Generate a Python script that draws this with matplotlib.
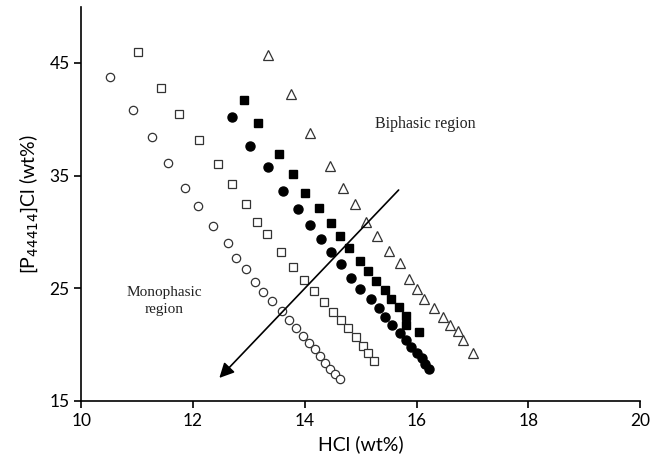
import matplotlib.pyplot as plt

# open circles
x_oc = [10.52, 10.93, 11.26, 11.55, 11.85, 12.08, 12.35, 12.62, 12.76, 12.94, 13.11, 13.26,
        13.42, 13.59, 13.72, 13.84, 13.97, 14.07, 14.18, 14.27, 14.36, 14.45, 14.54, 14.63]
y_oc = [43.75, 40.82, 38.43, 36.12, 33.90, 32.30, 30.53, 29.02, 27.69, 26.71, 25.56, 24.67,
        23.87, 22.99, 22.19, 21.48, 20.77, 20.15, 19.61, 18.99, 18.37, 17.84, 17.40, 16.95]

# open squares
x_os = [11.01, 11.42, 11.74, 12.10, 12.44, 12.69, 12.95, 13.15, 13.33, 13.58, 13.79,
        13.99, 14.16, 14.34, 14.50, 14.64, 14.77, 14.91, 15.04, 15.14, 15.23]
y_os = [45.97, 42.77, 40.47, 38.16, 36.03, 34.25, 32.48, 30.88, 29.82, 28.22, 26.89,
        25.74, 24.76, 23.78, 22.90, 22.19, 21.48, 20.68, 19.88, 19.26, 18.55]

# filled circles
x_fc = [12.70, 13.02, 13.35, 13.61, 13.88, 14.09, 14.29, 14.47, 14.64, 14.82, 14.98,
        15.18, 15.32, 15.43, 15.57, 15.71, 15.82, 15.91, 16.00, 16.09, 16.16, 16.23]
y_fc = [40.20, 37.63, 35.76, 33.63, 32.04, 30.62, 29.37, 28.22, 27.16, 25.91, 24.94,
        24.05, 23.25, 22.45, 21.74, 21.03, 20.41, 19.79, 19.26, 18.82, 18.28, 17.84]

# filled squares
x_fs = [12.92, 13.17, 13.54, 13.79, 14.00, 14.25, 14.47, 14.63, 14.80, 14.98, 15.14,
        15.28, 15.43, 15.55, 15.69, 15.82, 15.82, 16.05]
y_fs = [41.71, 39.67, 36.92, 35.14, 33.46, 32.13, 30.79, 29.64, 28.58, 27.42, 26.54,
        25.65, 24.85, 24.05, 23.34, 22.54, 21.74, 21.12]

# open triangles
x_ot = [13.35, 13.75, 14.09, 14.45, 14.68, 14.89, 15.09, 15.30, 15.50, 15.71, 15.87,
        16.00, 16.14, 16.32, 16.48, 16.60, 16.74, 16.83, 17.01]
y_ot = [45.70, 42.24, 38.78, 35.85, 33.90, 32.48, 30.88, 29.64, 28.31, 27.24, 25.83,
        24.94, 24.05, 23.25, 22.45, 21.74, 21.21, 20.41, 19.26]

fig = plt.figure(figsize=(6.51, 4.70), dpi=100)
ax = fig.add_axes([0.125, 0.147, 0.858, 0.839])

edge = '#333333'
ms = 6
ax.plot(x_oc, y_oc, 'o', ms=ms, mfc='white', mec=edge, mew=0.9, ls='none')
ax.plot(x_os, y_os, 's', ms=ms, mfc='white', mec=edge, mew=0.9, ls='none')
ax.plot(x_fc, y_fc, 'o', ms=ms + 0.5, mfc='black', mec='black', ls='none')
ax.plot(x_fs, y_fs, 's', ms=ms, mfc='black', mec='black', ls='none')
ax.plot(x_ot, y_ot, '^', ms=ms + 0.5, mfc='white', mec=edge, mew=0.9, ls='none')

# arrow from biphasic to monophasic region
ax.annotate('', xy=(12.47, 17.04), xytext=(15.68, 33.72),
            arrowprops=dict(arrowstyle='-|>', color='black', lw=1.2,
                            mutation_scale=22, shrinkA=0, shrinkB=0))

ax.text(16.16, 39.58, 'Biphasic region', ha='center', va='center',
        fontsize=11.5, family='Liberation Serif', color='#222222')
ax.text(11.49, 23.87, 'Monophasic\nregion', ha='center', va='center',
        fontsize=11, family='Liberation Serif', color='#222222', linespacing=1.4)

ax.set_xlim(10, 20)
ax.set_ylim(15, 50)
ax.set_xticks([10, 12, 14, 16, 18, 20])
ax.set_yticks([15, 25, 35, 45])
ax.spines['top'].set_visible(False)
ax.spines['right'].set_visible(False)
ax.spines['left'].set_linewidth(1.2)
ax.spines['bottom'].set_linewidth(1.2)
ax.tick_params(direction='out', length=5, width=1.2, labelsize=12.5)
for lab in ax.get_xticklabels() + ax.get_yticklabels():
    lab.set_family('Lato')
ax.set_xlabel('HCl (wt%)', fontsize=14, family='Lato', labelpad=5)
ax.set_ylabel('[P$_{44414}$]Cl (wt%)', fontsize=14, family='Lato', labelpad=7)

fig.savefig('out.png', dpi=100)
